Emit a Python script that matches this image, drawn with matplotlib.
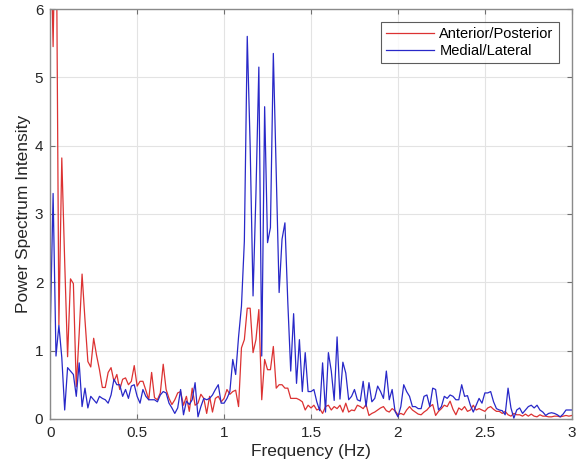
import numpy as np
import matplotlib
matplotlib.use('Agg')
import matplotlib.pyplot as plt

# power spectrum values, one sample every 1/60 Hz from 0 to 3 Hz
ap_power = [7.5, 5.45, 8.0, 1.38, 3.82, 2.3, 0.91, 2.05, 1.98, 0.47,
            1.25, 2.12, 1.45, 0.84, 0.76, 1.18, 0.93, 0.72, 0.46, 0.46,
            0.68, 0.75, 0.55, 0.65, 0.43, 0.58, 0.6, 0.5, 0.55, 0.78,
            0.48, 0.55, 0.55, 0.42, 0.28,
            0.68, 0.31, 0.28, 0.38, 0.8, 0.43, 0.3, 0.21, 0.28, 0.38,
            0.4, 0.2, 0.33, 0.11, 0.45, 0.2, 0.23, 0.36,
            0.3, 0.08, 0.33, 0.1, 0.3, 0.33, 0.25, 0.3, 0.43, 0.36,
            0.4, 0.42, 0.18, 1.04, 1.16, 1.62, 1.62, 0.97, 1.16, 1.6,
            0.28, 0.87, 0.72, 0.72, 1.06,
            0.45, 0.5, 0.5, 0.45, 0.45, 0.3, 0.3, 0.3, 0.28, 0.25,
            0.13, 0.2, 0.16, 0.2, 0.13, 0.15, 0.08, 0.18, 0.2, 0.13,
            0.18, 0.15, 0.2, 0.1, 0.23, 0.1, 0.13, 0.12,
            0.2, 0.18, 0.15, 0.21, 0.05, 0.08, 0.1, 0.13, 0.16, 0.18,
            0.12, 0.1, 0.15, 0.12, 0.06, 0.08, 0.06, 0.13, 0.18, 0.13,
            0.1, 0.07, 0.06, 0.1, 0.13, 0.18, 0.21, 0.05, 0.11, 0.15,
            0.2, 0.18, 0.26, 0.14, 0.06,
            0.16, 0.13, 0.18, 0.11, 0.13, 0.2, 0.13, 0.15, 0.13, 0.11,
            0.16, 0.18, 0.14, 0.11, 0.11, 0.08, 0.11, 0.06, 0.04, 0.08,
            0.06, 0.06, 0.04, 0.07, 0.04, 0.07, 0.04, 0.03, 0.06, 0.04,
            0.04, 0.03, 0.03, 0.04, 0.04, 0.03, 0.04, 0.05, 0.04, 0.05]

ml_power = [1.27, 3.3, 0.92, 1.37, 0.9, 0.13, 0.75, 0.7, 0.65, 0.33,
            0.82, 0.18, 0.45, 0.16, 0.33, 0.28, 0.23, 0.33, 0.3, 0.28,
            0.23, 0.35, 0.58, 0.5, 0.5, 0.33, 0.43, 0.3, 0.48, 0.5,
            0.33, 0.23, 0.43, 0.33, 0.28, 0.28,
            0.28, 0.25, 0.35, 0.4, 0.38, 0.23, 0.16, 0.08, 0.16, 0.43,
            0.06, 0.26, 0.21, 0.28, 0.53, 0.03, 0.18, 0.3, 0.28, 0.3,
            0.35, 0.43,
            0.5, 0.23, 0.23, 0.3, 0.4, 0.87, 0.65, 1.2, 1.65, 2.6,
            5.6, 4.0, 1.8, 3.3, 5.15, 0.92, 4.57, 2.58, 2.8, 5.35,
            3.6, 1.85, 2.63, 2.87, 1.7, 0.7, 1.54, 0.52, 1.16, 0.4,
            0.97, 0.4, 0.4, 0.43, 0.25, 0.12, 0.82, 0.1, 0.97, 0.7,
            0.27, 1.2, 0.29, 0.83, 0.67, 0.28, 0.33, 0.43,
            0.28, 0.26, 0.55, 0.18, 0.53, 0.25, 0.3, 0.48, 0.4, 0.3,
            0.7, 0.28, 0.43, 0.11, 0.03, 0.18, 0.5, 0.4, 0.33, 0.18,
            0.18, 0.15, 0.15, 0.33, 0.35, 0.18, 0.45, 0.43, 0.13, 0.18,
            0.33, 0.3, 0.35, 0.33, 0.28,
            0.28, 0.5, 0.33, 0.34, 0.2, 0.1, 0.2, 0.3, 0.23, 0.38,
            0.38, 0.4, 0.25, 0.15, 0.13, 0.12, 0.06, 0.45, 0.16, 0.01,
            0.13, 0.16, 0.08, 0.13, 0.18, 0.2, 0.16, 0.2, 0.13, 0.1,
            0.05, 0.08, 0.09, 0.08, 0.06, 0.03, 0.07, 0.13, 0.13, 0.13]

x_ticks = [0, 0.5, 1, 1.5, 2, 2.5, 3]
x_tick_labels = ['0', '0.5', '1', '1.5', '2', '2.5', '3']
y_ticks = [0, 1, 2, 3, 4, 5, 6]

plt.rcParams['font.family'] = ['Liberation Sans', 'DejaVu Sans']

fig = plt.figure(figsize=(5.77, 4.76), dpi=100)
ax = fig.add_axes([0.087, 0.12, 0.904, 0.861])

f_ap = np.arange(len(ap_power)) / 60.0
f_ml = np.arange(len(ml_power)) / 60.0
ax.plot(f_ap, ap_power, color='#dc3232', lw=0.9, label='Anterior/Posterior')
ax.plot(f_ml, ml_power, color='#2828c8', lw=0.9, label='Medial/Lateral')

ax.set_xlim(0, 3)
ax.set_ylim(0, 6)
ax.set_xticks(x_ticks)
ax.set_xticklabels(x_tick_labels)
ax.set_yticks(y_ticks)
ax.grid(True, color='#e3e3e3', lw=0.8)
ax.set_axisbelow(True)
ax.tick_params(direction='in', length=3.5, width=0.8, color='#707070',
               labelsize=11, labelcolor='#262626',
               top=True, right=True, pad=5)
for sp in ax.spines.values():
    sp.set_color('#8a8a8a')
    sp.set_linewidth(1.0)

ax.set_xlabel('Frequency (Hz)', fontsize=12.5, color='#262626', labelpad=3)
ax.set_ylabel('Power Spectrum Intensity', fontsize=12.5, color='#262626', labelpad=3)

leg = ax.legend(loc='upper right', fontsize=10.5, frameon=True, fancybox=False,
                handlelength=3.3, handletextpad=0.35, borderpad=0.35,
                labelspacing=0.2, borderaxespad=0.9)
leg.get_frame().set_edgecolor('#333333')
leg.get_frame().set_linewidth(0.8)

fig.savefig('out.png', dpi=100, facecolor='white')
